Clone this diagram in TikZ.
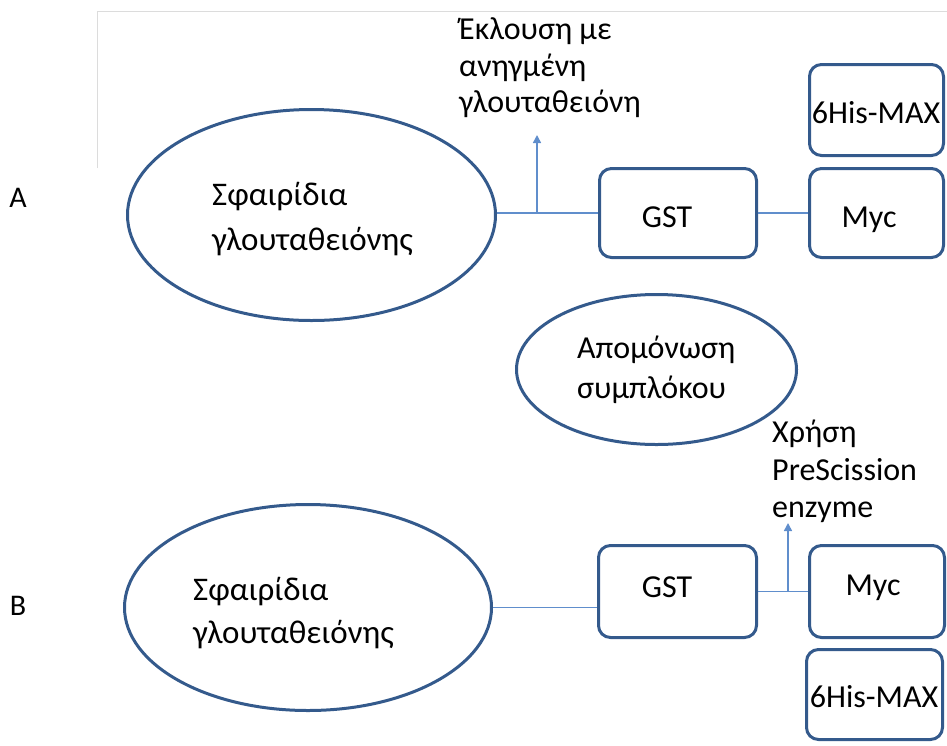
\documentclass[tikz,border=0pt]{standalone}
\usepackage{fontspec}
\setmainfont{Carlito}
\usetikzlibrary{shapes.geometric,arrows.meta}
\definecolor{shapeblue}{RGB}{52,90,140}
\definecolor{lineblue}{RGB}{96,142,204}
\definecolor{framegray}{RGB}{220,220,220}
\begin{document}
\begin{tikzpicture}[x=1pt,y=-1pt,
  ell/.style={draw=shapeblue, line width=3pt, ellipse, inner sep=0pt},
  rbox/.style={draw=shapeblue, line width=3pt, rounded corners=12pt, inner sep=0pt},
  boxtext/.style={inner sep=0pt, anchor=base, font=\fontsize{32}{38}\selectfont},
  conn/.style={draw=lineblue, line width=1.5pt},
  uparrow/.style={conn, -{Triangle[width=8pt,length=8pt]}},
  txt/.style={inner sep=0pt, anchor=base west},
  elltext/.style={txt, font=\fontsize{33}{40}\selectfont},
  midtext/.style={txt, font=\fontsize{32}{38}\selectfont},
  notetext/.style={txt, font=\fontsize{32}{38}\selectfont},
  lbl/.style={inner sep=0pt, font=\fontsize{30}{36}\selectfont}
]
\useasboundingbox (0,0) rectangle (947,745);
% faint frame remnant
\draw[framegray, line width=1pt] (97,168) -- (97,11) -- (947,11);

% labels
\node[lbl] (labA) at (18,198) {A};
\node[lbl] (labB) at (18,606) {B};

% ---------- A ----------
\node[ell, minimum width=368pt, minimum height=211pt] (ellA) at (311.5,215) {};
\node[elltext] (ellAt1) at (212,205) {Σφαιρίδια};
\node[elltext] (ellAt2) at (212,250) {γλουταθειόνης};

\node[rbox, minimum width=157pt, minimum height=89pt] (gstA) at (678,213) {};
\node[rbox, minimum width=134pt, minimum height=89pt] (mycA) at (876.5,213) {};
\node[rbox, minimum width=134pt, minimum height=91pt] (hisA) at (876.5,110) {};
\node[boxtext] (gstAt) at (667,227) {GST};
\node[boxtext] (mycAt) at (869,227) {Myc};
\node[boxtext] (hisAt) at (876,123) {6His-MAX};

\draw[conn] (ellA.east |- gstA.west) -- (gstA.west);
\draw[conn] (gstA.east) -- (mycA.west);
\coordinate (jA) at (537,213);
\coordinate (tipA) at (537,135);
\draw[uparrow] (jA) -- (tipA);

\node[notetext] (eluA1) at (459,39) {Έκλουση με};
\node[notetext] (eluA2) at (459,76) {ανηγμένη};
\node[notetext] (eluA3) at (459,112) {γλουταθειόνη};

% ---------- middle ----------
\node[ell, minimum width=280pt, minimum height=150pt] (iso) at (656.5,369.5) {};
\node[midtext] (isoT1) at (577,358) {Απομόνωση};
\node[midtext] (isoT2) at (577,398) {συμπλόκου};

% ---------- B ----------
\node[ell, minimum width=367pt, minimum height=206pt] (ellB) at (308,607.5) {};
\node[elltext] (ellBt1) at (193,600) {Σφαιρίδια};
\node[elltext] (ellBt2) at (193,643) {γλουταθειόνης};

\node[rbox, minimum width=158pt, minimum height=92pt] (gstB) at (677.5,591.5) {};
\node[rbox, minimum width=135pt, minimum height=92pt] (mycB) at (877,591.5) {};
\node[rbox, minimum width=136pt, minimum height=90pt] (hisB) at (874.5,694.5) {};
\node[boxtext] (gstBt) at (667,597) {GST};
\node[boxtext] (mycBt) at (873,595) {Myc};
\node[boxtext] (hisBt) at (874,707) {6His-MAX};

\draw[conn] (ellB.east) -- (ellB.east -| gstB.west);
\draw[conn] (gstB.east) -- (mycB.west);
\coordinate (jB) at (788,591.5);
\coordinate (tipB) at (788,523);
\draw[uparrow] (jB) -- (tipB);

\node[notetext] (preB1) at (772,442) {Χρήση};
\node[notetext] (preB2) at (772,480) {PreScission};
\node[notetext] (preB3) at (772,517) {enzyme};
\end{tikzpicture}
\end{document}
